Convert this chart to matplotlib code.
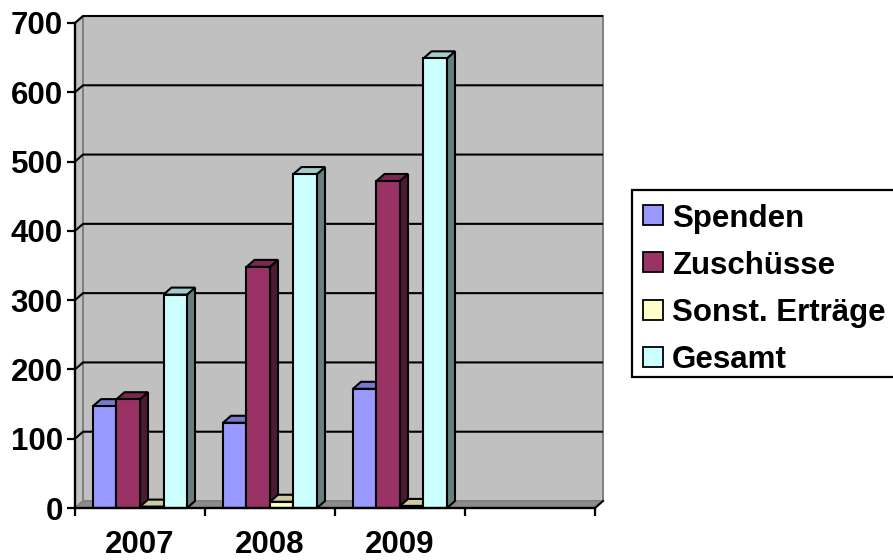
import matplotlib
matplotlib.use("Agg")
import matplotlib.pyplot as plt
from matplotlib.patches import Polygon, Rectangle
import numpy as np

plt.rcParams['font.family'] = ['Liberation Sans', 'DejaVu Sans']

categories = ['2007', '2008', '2009', '']
series_names = ['Spenden', 'Zuschüsse', 'Sonst. Erträge', 'Gesamt']
spenden = [147, 123, 172, 0]
zuschuesse = [157, 348, 472, 0]
sonst = [2, 9, 3, 0]
gesamt = [308, 482, 649, 0]
yticks = [0, 100, 200, 300, 400, 500, 600, 700]

series_values = [spenden, zuschuesse, sonst, gesamt]
front_colors = ['#9999FF', '#993366', '#FFFFCC', '#CCFFFF']
FS = 22.5

def shade(hexc, f):
    c = np.array(matplotlib.colors.to_rgb(hexc))
    return tuple(c * f)

W, H = 893, 560
fig = plt.figure(figsize=(W / 100, H / 100), dpi=100)
# axes: x pixels 75..595, y pixels 508..23
ax = fig.add_axes([75 / W, (H - 508) / H, 520 / W, (508 - 23) / H])
ncat = len(categories)
ax.set_xlim(0, ncat)
ax.set_ylim(0, 700)

px_x = 520 / ncat        # pixels per category
px_y = 485 / 700         # pixels per value unit
dx = 8 / px_x
dy = 7 / px_y

# back wall
ax.add_patch(Polygon([(dx, dy), (ncat + dx, dy), (ncat + dx, 700 + dy), (dx, 700 + dy)],
                     closed=True, facecolor='#C0C0C0', edgecolor='#808080', lw=1.4,
                     clip_on=False, zorder=1))
# left wall
ax.add_patch(Polygon([(0, 0), (dx, dy), (dx, 700 + dy), (0, 700)],
                     closed=True, facecolor='#C0C0C0', edgecolor='#808080', lw=1.4,
                     clip_on=False, zorder=1))
# floor
ax.add_patch(Polygon([(0, 0), (ncat, 0), (ncat + dx, dy), (dx, dy)],
                     closed=True, facecolor='#8C8C8C', edgecolor='#808080', lw=1.0,
                     clip_on=False, zorder=1.5))
ax.plot([ncat, ncat + dx], [0, dy], color='black', lw=1.5, clip_on=False, zorder=2)

# gridlines
for v in yticks[1:]:
    ax.plot([0, dx, ncat + dx], [v, v + dy, v + dy], color='black', lw=1.5,
            clip_on=False, zorder=2, solid_capstyle='butt')

# bars
gap = 18 / px_x
bw = 23.5 / px_x
LW = 1.5
for i in range(ncat):
    for s, vals in enumerate(series_values):
        v = vals[i]
        if categories[i] == '':
            continue
        x0 = i + gap + s * bw
        fc = front_colors[s]
        z = 3 + i * 0.1 + s * 0.01
        side = [(x0 + bw, 0), (x0 + bw + dx, dy), (x0 + bw + dx, v + dy), (x0 + bw, v)]
        top = [(x0, v), (x0 + bw, v), (x0 + bw + dx, v + dy), (x0 + dx, v + dy)]
        ax.add_patch(Polygon(side, closed=True, facecolor=shade(fc, 0.5), edgecolor='black',
                             lw=LW, clip_on=False, zorder=z, joinstyle='miter'))
        ax.add_patch(Polygon(top, closed=True, facecolor=shade(fc, 0.8), edgecolor='black',
                             lw=LW, clip_on=False, zorder=z, joinstyle='miter'))
        ax.add_patch(Rectangle((x0, 0), bw, v, facecolor=fc, edgecolor='black',
                               lw=LW, clip_on=False, zorder=z + 0.001, joinstyle='miter'))

# axes styling
ax.set_facecolor('none')
for sp in ['top', 'right']:
    ax.spines[sp].set_visible(False)
for sp in ['left', 'bottom']:
    ax.spines[sp].set_linewidth(1.7)
    ax.spines[sp].set_color('black')
    ax.spines[sp].set_zorder(10)

ax.set_yticks(yticks)
ax.set_yticklabels([str(t) for t in yticks], fontsize=FS, fontweight='bold')
ax.tick_params(axis='y', direction='out', length=5.8, width=1.6, pad=3)

ax.set_xticks(np.arange(ncat + 1))
ax.set_xticklabels([])
ax.tick_params(axis='x', which='major', direction='out', length=5.8, width=1.6)
ax.set_xticks(np.arange(ncat) + 0.5, minor=True)
ax.set_xticklabels(categories, minor=True, fontsize=FS, fontweight='bold')
ax.tick_params(axis='x', which='minor', length=0, pad=16)

# legend (drawn in figure pixel coords)
def fx(x):
    return x / W

def fy(y):
    return (H - y) / H

fig.patches.append(Rectangle((fx(632), fy(377)), fx(270), (377 - 190) / H,
                             transform=fig.transFigure, facecolor='white',
                             edgecolor='black', lw=1.6, zorder=5))
row_y = [215, 262, 310, 357]
for name, fc, ry in zip(series_names, front_colors, row_y):
    fig.patches.append(Rectangle((fx(643), fy(ry + 10)), 20 / W, 20 / H,
                                 transform=fig.transFigure, facecolor=fc,
                                 edgecolor='black', lw=1.3, zorder=6))
    fig.text(fx(672), fy(ry), name, fontsize=FS, fontweight='bold',
             ha='left', va='center_baseline', zorder=7)

fig.savefig('out.png', dpi=100)
